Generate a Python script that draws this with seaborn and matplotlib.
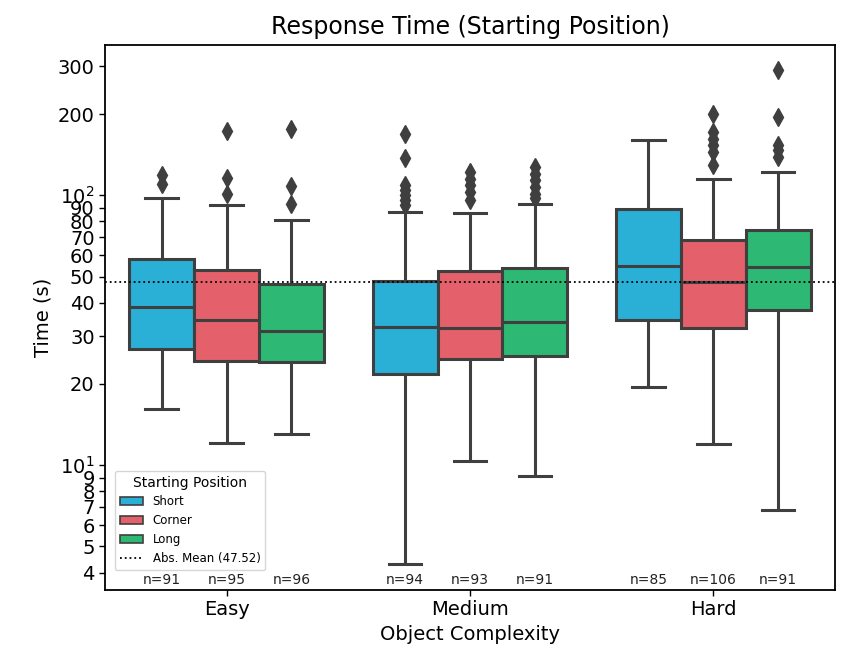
import matplotlib
matplotlib.use("Agg")
import matplotlib.pyplot as plt
from matplotlib.patches import Patch
from matplotlib.lines import Line2D
from matplotlib.ticker import LogLocator, FuncFormatter, LogFormatterSciNotation
import matplotlib.transforms as mtransforms
import pandas as pd
import seaborn as sns

# Categories
complexity = ["Easy", "Medium", "Hard"]
positions = ["Short", "Corner", "Long"]
colors = ["#2AAFD6", "#E4606B", "#2DB874"]

# Box summaries per complexity (rows) and starting position (columns), seconds
whisker_low = [[16.2, 12.1, 13.0], [4.32, 10.4, 9.1], [19.5, 12.0, 6.85]]
q1 = [[27.0, 24.3, 24.1], [21.7, 24.8, 25.3], [34.6, 32.1, 37.5]]
median = [[38.6, 34.6, 31.4], [32.5, 32.3, 33.9], [54.6, 47.7, 54.3]]
q3 = [[58.3, 52.7, 47.1], [48.0, 52.3, 53.8], [89.3, 68.5, 74.2]]
whisker_high = [[97.7, 91.8, 80.8], [86.5, 86.0, 92.6], [160.8, 115.3, 122.0]]
outliers = [
    [[110.5, 118.6], [101.4, 116.3, 173.0], [93.1, 107.9, 176.6]],
    [[91.8, 95.8, 100.0, 104.4, 108.9, 137.9, 168.2],
     [95.8, 102.8, 108.9, 115.3, 122.0],
     [98.1, 101.5, 107.3, 113.6, 120.3, 127.3]],
    [[], [129.2, 144.6, 153.2, 162.2, 171.6, 200.7], [139.0, 147.0, 153.2, 195.0, 292.0]],
]
n_counts = [[91, 95, 96], [94, 93, 91], [85, 106, 91]]
abs_mean = 47.52

# Long-format table whose quartiles and whisker ends reproduce the summaries
rows = []
for i, c in enumerate(complexity):
    for j, p in enumerate(positions):
        vals = ([whisker_low[i][j]] + [q1[i][j]] * 10 + [median[i][j]] * 10
                + [q3[i][j]] * 10 + [whisker_high[i][j]] + outliers[i][j])
        rows += [(c, p, v) for v in vals]
df = pd.DataFrame(rows, columns=["Object Complexity", "Starting Position", "Time (s)"])

fig, ax = plt.subplots(figsize=(8.46, 6.54), dpi=100)
fig.subplots_adjust(left=0.124, right=0.987, top=0.931, bottom=0.098)

line_c = "#3f3f3f"
sns.boxplot(
    data=df, x="Object Complexity", y="Time (s)", hue="Starting Position",
    order=complexity, hue_order=positions, palette=colors, saturation=1,
    linecolor=line_c, linewidth=2.2, fliersize=9,
    flierprops=dict(marker="d", markerfacecolor=line_c, markeredgecolor=line_c),
    legend=False, ax=ax,
)

ax.set_yscale("log")
ax.set_ylim(3.45, 360)
ax.set_xlim(-0.5, 2.5)
ax.yaxis.set_major_locator(LogLocator(base=10))
ax.yaxis.set_major_formatter(LogFormatterSciNotation(base=10))
ax.yaxis.set_minor_locator(LogLocator(base=10, subs=range(2, 10)))
ax.yaxis.set_minor_formatter(FuncFormatter(lambda v, _: f"{v:g}"))
ax.tick_params(axis="both", which="both", labelsize=14, length=4, width=1)

ax.axhline(abs_mean, color="black", ls=":", lw=1.3, zorder=5)

# Sample sizes under each box
trans = mtransforms.blended_transform_factory(ax.transData, ax.transAxes)
w = 0.8 / len(positions)
for i in range(len(complexity)):
    for j in range(len(positions)):
        ax.text(i + (j - 1) * w, 0.006, f"n={n_counts[i][j]}", transform=trans,
                ha="center", va="bottom", fontsize=10, color="#222222")

ax.set_title("Response Time (Starting Position)", fontsize=17, pad=8)
ax.set_xlabel("Object Complexity", fontsize=14)
ax.set_ylabel("Time (s)", fontsize=14)
for s in ax.spines.values():
    s.set_linewidth(1.3)
    s.set_color("black")

handles = [Patch(facecolor=c, edgecolor=line_c, linewidth=1.2, label=p)
           for c, p in zip(colors, positions)]
handles.append(Line2D([], [], color="black", ls=":", lw=1.3,
                      label=f"Abs. Mean ({abs_mean})"))
ax.legend(handles=handles, title="Starting Position", loc="lower left",
          bbox_to_anchor=(0.0137, 0.0367), borderaxespad=0, fontsize=8.5,
          title_fontsize=10)

fig.savefig("out.png", dpi=100)
